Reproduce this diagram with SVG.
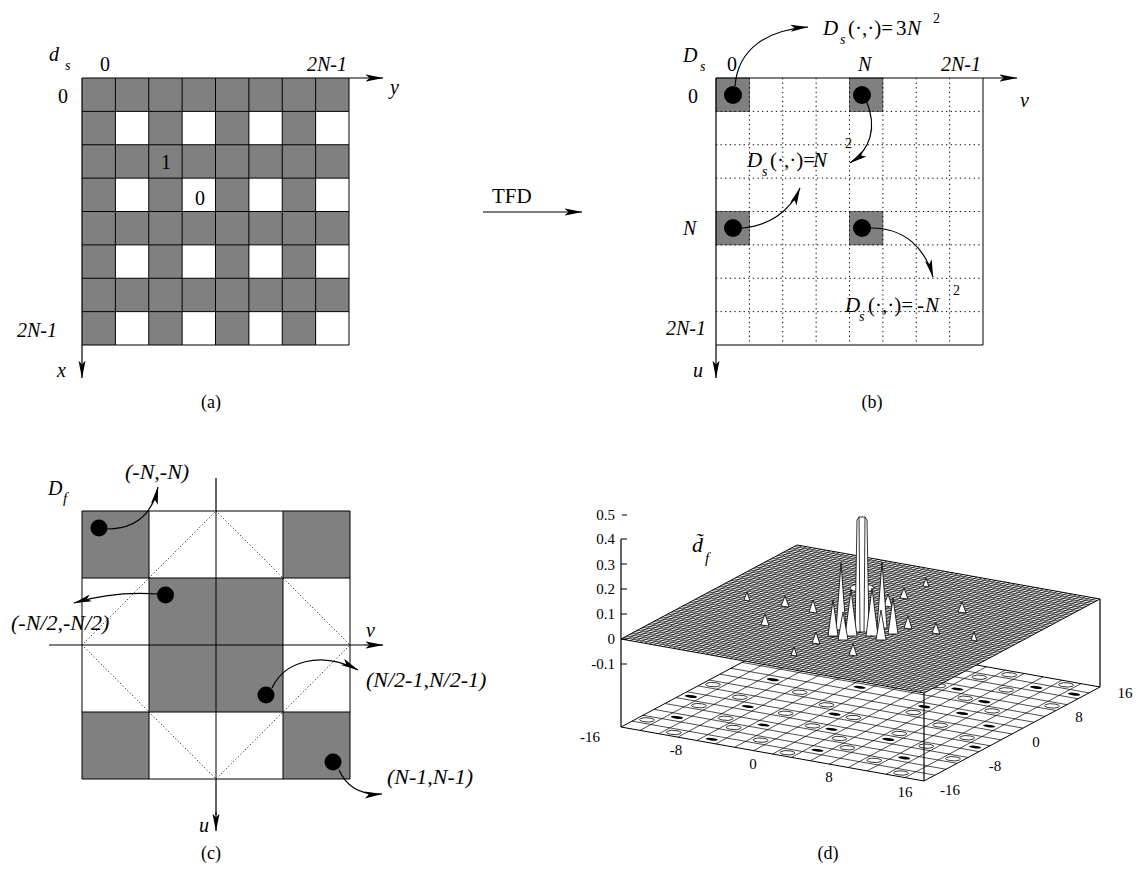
<svg xmlns="http://www.w3.org/2000/svg" width="1136" height="888" viewBox="0 0 1136 888" font-family="'Liberation Serif', 'DejaVu Serif', 'Times New Roman', serif">
<style>
text{font-family:'Liberation Serif','DejaVu Serif','Times New Roman',serif;font-size:20px;fill:#000}
.it{font-style:italic}
.sub{font-size:14px;font-style:italic}
.cap{font-size:18px}
.ann{font-size:22px;font-style:italic}
.tick{font-size:15px}
.tk{text-anchor:end;font-size:15px}
.mid{text-anchor:middle}
.grid{fill:none;stroke:#000;stroke-width:1}
.dot{fill:none;stroke:#000;stroke-width:1;stroke-dasharray:1.3 3.3}
.gray{fill:#808080}
.ax{fill:none;stroke:#000;stroke-width:1.2}
.arr{fill:none;stroke:#000;stroke-width:1.2;marker-end:url(#ah)}
.mesh{fill:none;stroke:#000;stroke-width:0.7}
.bump{fill:#fff;stroke:#000;stroke-width:0.8;stroke-linejoin:round}
</style>
<defs>
<marker id="ah" markerUnits="userSpaceOnUse" markerWidth="18" markerHeight="8" refX="17.5" refY="4" orient="auto">
<path d="M0,0.5 L18,4 L0,7.5 L4,4 Z" fill="#000"/>
</marker>
</defs>
<rect width="1136" height="888" fill="#fff"/>

<!-- Panel (a) -->
<g id="panel-a">
<g transform="translate(82,78)">
<rect x="0" y="0" width="267" height="267" class="gray"/>
<g fill="#fff">
<rect x="33.375" y="33.375" width="33.375" height="33.375"/><rect x="100.125" y="33.375" width="33.375" height="33.375"/><rect x="166.875" y="33.375" width="33.375" height="33.375"/><rect x="233.625" y="33.375" width="33.375" height="33.375"/>
<rect x="33.375" y="100.125" width="33.375" height="33.375"/><rect x="100.125" y="100.125" width="33.375" height="33.375"/><rect x="166.875" y="100.125" width="33.375" height="33.375"/><rect x="233.625" y="100.125" width="33.375" height="33.375"/>
<rect x="33.375" y="166.875" width="33.375" height="33.375"/><rect x="100.125" y="166.875" width="33.375" height="33.375"/><rect x="166.875" y="166.875" width="33.375" height="33.375"/><rect x="233.625" y="166.875" width="33.375" height="33.375"/>
<rect x="33.375" y="233.625" width="33.375" height="33.375"/><rect x="100.125" y="233.625" width="33.375" height="33.375"/><rect x="166.875" y="233.625" width="33.375" height="33.375"/><rect x="233.625" y="233.625" width="33.375" height="33.375"/>
</g>
<path class="grid" d="M33.375,0V267M66.75,0V267M100.125,0V267M133.5,0V267M166.875,0V267M200.25,0V267M233.625,0V267M267,0V267M0,33.375H267M0,66.75H267M0,100.125H267M0,133.5H267M0,166.875H267M0,200.25H267M0,233.625H267M0,267H267"/>
</g>
<text x="49" y="61" class="it">d</text><text x="65" y="70" class="sub">s</text>
<text x="105" y="71" class="mid">0</text>
<text x="307" y="71" class="it">2N-1</text>
<text x="390" y="94" class="it">y</text>
<text x="58" y="103">0</text>
<text x="17" y="337" class="it">2N-1</text>
<text x="57" y="377" class="it">x</text>
<text x="166" y="169" class="mid">1</text>
<text x="200" y="205" class="mid">0</text>
<text x="211" y="408" class="cap mid">(a)</text>
</g>

<!-- TFD label -->
<g id="tfd">
<text x="492" y="203" style="font-size:21px">TFD</text>
</g>

<!-- Panel (b) -->
<g id="panel-b">
<g transform="translate(716,78)">
<g class="gray" stroke="#333" stroke-width="0.6">
<rect x="0" y="0" width="33.375" height="33.375"/>
<rect x="133.5" y="0" width="33.375" height="33.375"/>
<rect x="0" y="133.5" width="33.375" height="33.375"/>
<rect x="133.5" y="133.5" width="33.375" height="33.375"/>
</g>
<path class="dot" d="M33.375,0V267M66.75,0V267M100.125,0V267M133.5,0V267M166.875,0V267M200.25,0V267M233.625,0V267M0,33.375H267M0,66.75H267M0,100.125H267M0,133.5H267M0,166.875H267M0,200.25H267M0,233.625H267"/>
<path class="grid" d="M267,0V267H0"/>
<g fill="#000">
<circle cx="17" cy="17" r="9"/>
<circle cx="146" cy="17" r="9"/>
<circle cx="17" cy="150" r="9"/>
<circle cx="146" cy="150" r="9"/>
</g>
</g>
<text x="683" y="62" class="it">D</text><text x="700" y="71" class="sub">s</text>
<text x="732" y="71" class="mid">0</text>
<text x="858" y="71" class="it">N</text>
<text x="941" y="71" class="it">2N-1</text>
<text x="1020" y="107" class="it">v</text>
<text x="688" y="103">0</text>
<text x="683" y="235" class="it">N</text>
<text x="706" y="335" class="it" text-anchor="end">2N-1</text>
<text x="693" y="377" class="it">u</text>
<text x="872" y="408" class="cap mid">(b)</text>
<!-- annotation 1 -->
<text x="823" y="35" class="it" style="font-size:21px">D</text>
<text x="840" y="44" class="sub">s</text>
<text x="848" y="35" style="font-size:21px">(·,·)=</text>
<text x="896" y="35" style="font-size:21px">3</text>
<text x="907" y="35" class="it" style="font-size:21px">N</text>
<text x="933" y="23" style="font-size:14px">2</text>
<!-- annotation 2 -->
<text x="747" y="167" class="it" style="font-size:21px">D</text>
<text x="762" y="176" class="sub">s</text>
<text x="770" y="167" style="font-size:21px">(·,·)=</text>
<text x="813" y="167" class="it" style="font-size:21px">N</text>
<text x="845" y="148" style="font-size:14px">2</text>
<!-- annotation 3 -->
<text x="845" y="312" class="it" style="font-size:21px">D</text>
<text x="859" y="321" class="sub">s</text>
<text x="868" y="312" style="font-size:21px">(·,·)=</text>
<text x="917" y="312" style="font-size:21px">-</text>
<text x="925" y="312" class="it" style="font-size:21px">N</text>
<text x="953" y="295" style="font-size:14px">2</text>
</g>

<!-- Panel (c) -->
<g id="panel-c">
<g transform="translate(82,511)">
<g class="gray">
<rect x="0" y="0" width="67" height="67"/>
<rect x="201" y="0" width="67" height="67"/>
<rect x="67" y="67" width="134" height="134"/>
<rect x="0" y="201" width="67" height="67"/>
<rect x="201" y="201" width="67" height="67"/>
</g>
<path d="M134,0L268,134L134,268L0,134Z" fill="none" stroke="#000" stroke-width="0.8" stroke-dasharray="1.2 2.2"/>
<path class="grid" d="M0,0H268V268H0ZM67,0V268M134,0V268M201,0V268M0,67H268M0,134H268M0,201H268"/>
<g fill="#000">
<circle cx="17" cy="17" r="8.5"/>
<circle cx="83.5" cy="84" r="8.5"/>
<circle cx="184" cy="184" r="8.5"/>
<circle cx="251" cy="251" r="8.5"/>
</g>
</g>
<text x="48" y="495" class="it">D</text><text x="63" y="503" class="sub" style="font-size:15px">f</text>
<text x="125" y="479" class="ann">(-N,-N)</text>
<text x="11" y="630" class="ann">(-N/2,-N/2)</text>
<text x="366" y="687" class="ann">(N/2-1,N/2-1)</text>
<text x="387" y="784" class="ann">(N-1,N-1)</text>
<text x="366" y="637" class="it">v</text>
<text x="199" y="832" class="it">u</text>
<text x="211" y="859" class="cap mid">(c)</text>
</g>

<!-- Panel (d) -->
<g id="panel-d">
<!-- lower plane (contour) -->
<g transform="matrix(9.46875,1.6875,5.5,-2.9375,621,727)">
<path d="M0,0H32V32H0Z" fill="#fff" stroke="#000" stroke-width="1" vector-effect="non-scaling-stroke"/>
<path class="mesh" vector-effect="non-scaling-stroke" d="M2,0V32M4,0V32M6,0V32M8,0V32M10,0V32M12,0V32M14,0V32M16,0V32M18,0V32M20,0V32M22,0V32M24,0V32M26,0V32M28,0V32M30,0V32M0,2H32M0,4H32M0,6H32M0,8H32M0,10H32M0,12H32M0,14H32M0,16H32M0,18H32M0,20H32M0,22H32M0,24H32M0,26H32M0,28H32M0,30H32"/>
<g fill="#fff" stroke="#000" stroke-width="0.8">
<ellipse vector-effect="non-scaling-stroke" cx="1" cy="3" rx="0.7" ry="0.6"/><ellipse vector-effect="non-scaling-stroke" cx="5" cy="1" rx="0.7" ry="0.6"/><ellipse vector-effect="non-scaling-stroke" cx="9" cy="5" rx="0.7" ry="0.6"/><ellipse vector-effect="non-scaling-stroke" cx="13" cy="3" rx="0.7" ry="0.6"/><ellipse vector-effect="non-scaling-stroke" cx="17" cy="1" rx="0.7" ry="0.6"/><ellipse vector-effect="non-scaling-stroke" cx="21" cy="5" rx="0.7" ry="0.6"/><ellipse vector-effect="non-scaling-stroke" cx="25" cy="3" rx="0.7" ry="0.6"/><ellipse vector-effect="non-scaling-stroke" cx="29" cy="1" rx="0.7" ry="0.6"/>
<ellipse vector-effect="non-scaling-stroke" cx="3" cy="9" rx="0.7" ry="0.6"/><ellipse vector-effect="non-scaling-stroke" cx="7" cy="7" rx="0.7" ry="0.6"/><ellipse vector-effect="non-scaling-stroke" cx="11" cy="11" rx="0.7" ry="0.6"/><ellipse vector-effect="non-scaling-stroke" cx="15" cy="9" rx="0.7" ry="0.6"/><ellipse vector-effect="non-scaling-stroke" cx="19" cy="7" rx="0.7" ry="0.6"/><ellipse vector-effect="non-scaling-stroke" cx="23" cy="11" rx="0.7" ry="0.6"/><ellipse vector-effect="non-scaling-stroke" cx="27" cy="9" rx="0.7" ry="0.6"/><ellipse vector-effect="non-scaling-stroke" cx="31" cy="7" rx="0.7" ry="0.6"/>
<ellipse vector-effect="non-scaling-stroke" cx="1" cy="15" rx="0.7" ry="0.6"/><ellipse vector-effect="non-scaling-stroke" cx="5" cy="13" rx="0.7" ry="0.6"/><ellipse vector-effect="non-scaling-stroke" cx="9" cy="17" rx="0.7" ry="0.6"/><ellipse vector-effect="non-scaling-stroke" cx="13" cy="15" rx="0.7" ry="0.6"/><ellipse vector-effect="non-scaling-stroke" cx="17" cy="13" rx="0.7" ry="0.6"/><ellipse vector-effect="non-scaling-stroke" cx="21" cy="17" rx="0.7" ry="0.6"/><ellipse vector-effect="non-scaling-stroke" cx="25" cy="15" rx="0.7" ry="0.6"/><ellipse vector-effect="non-scaling-stroke" cx="29" cy="13" rx="0.7" ry="0.6"/>
<ellipse vector-effect="non-scaling-stroke" cx="23" cy="23" rx="0.7" ry="0.6"/><ellipse vector-effect="non-scaling-stroke" cx="27" cy="21" rx="0.7" ry="0.6"/><ellipse vector-effect="non-scaling-stroke" cx="31" cy="25" rx="0.7" ry="0.6"/><ellipse vector-effect="non-scaling-stroke" cx="21" cy="29" rx="0.7" ry="0.6"/><ellipse vector-effect="non-scaling-stroke" cx="25" cy="27" rx="0.7" ry="0.6"/><ellipse vector-effect="non-scaling-stroke" cx="29" cy="31" rx="0.7" ry="0.6"/><ellipse vector-effect="non-scaling-stroke" cx="19" cy="25" rx="0.7" ry="0.6"/><ellipse vector-effect="non-scaling-stroke" cx="23" cy="31" rx="0.7" ry="0.6"/>
</g>
<g fill="#000">
<ellipse cx="3" cy="5" rx="0.6" ry="0.35"/><ellipse cx="11" cy="7" rx="0.6" ry="0.35"/><ellipse cx="19" cy="3" rx="0.6" ry="0.35"/><ellipse cx="27" cy="5" rx="0.6" ry="0.35"/><ellipse cx="7" cy="11" rx="0.6" ry="0.35"/><ellipse cx="15" cy="13" rx="0.6" ry="0.35"/><ellipse cx="23" cy="9" rx="0.6" ry="0.35"/><ellipse cx="31" cy="11" rx="0.6" ry="0.35"/><ellipse cx="5" cy="19" rx="0.6" ry="0.35"/><ellipse cx="13" cy="21" rx="0.6" ry="0.35"/><ellipse cx="21" cy="19" rx="0.6" ry="0.35"/><ellipse cx="29" cy="17" rx="0.6" ry="0.35"/><ellipse cx="25" cy="23" rx="0.6" ry="0.35"/><ellipse cx="31" cy="29" rx="0.6" ry="0.35"/><ellipse cx="21" cy="25" rx="0.6" ry="0.35"/><ellipse cx="27" cy="29" rx="0.6" ry="0.35"/><ellipse cx="9" cy="1" rx="0.6" ry="0.35"/><ellipse cx="17" cy="9" rx="0.6" ry="0.35"/><ellipse cx="1" cy="11" rx="0.6" ry="0.35"/><ellipse cx="25" cy="19" rx="0.6" ry="0.35"/>
</g>
</g>
<!-- vertical edges -->
<path class="ax" d="M924,693V781M1100,599V687" stroke-width="1"/>
<!-- upper surface mesh -->
<g transform="matrix(9.46875,1.6875,5.5,-2.9375,621,639)">
<path d="M0,0H32V32H0Z" fill="#fff" stroke="#000" stroke-width="1" vector-effect="non-scaling-stroke"/>
<path class="mesh" vector-effect="non-scaling-stroke" d="M0,0.5H32M0,1H32M0,1.5H32M0,2H32M0,2.5H32M0,3H32M0,3.5H32M0,4H32M0,4.5H32M0,5H32M0,5.5H32M0,6H32M0,6.5H32M0,7H32M0,7.5H32M0,8H32M0,8.5H32M0,9H32M0,9.5H32M0,10H32M0,10.5H32M0,11H32M0,11.5H32M0,12H32M0,12.5H32M0,13H32M0,13.5H32M0,14H32M0,14.5H32M0,15H32M0,15.5H32M0,16H32M0,16.5H32M0,17H32M0,17.5H32M0,18H32M0,18.5H32M0,19H32M0,19.5H32M0,20H32M0,20.5H32M0,21H32M0,21.5H32M0,22H32M0,22.5H32M0,23H32M0,23.5H32M0,24H32M0,24.5H32M0,25H32M0,25.5H32M0,26H32M0,26.5H32M0,27H32M0,27.5H32M0,28H32M0,28.5H32M0,29H32M0,29.5H32M0,30H32M0,30.5H32M0,31H32M0,31.5H32M1,0V32M2,0V32M3,0V32M4,0V32M5,0V32M6,0V32M7,0V32M8,0V32M9,0V32M10,0V32M11,0V32M12,0V32M13,0V32M14,0V32M15,0V32M16,0V32M17,0V32M18,0V32M19,0V32M20,0V32M21,0V32M22,0V32M23,0V32M24,0V32M25,0V32M26,0V32M27,0V32M28,0V32M29,0V32M30,0V32M31,0V32M0.5,0V32M1.5,0V32M2.5,0V32M3.5,0V32M4.5,0V32M5.5,0V32M6.5,0V32M7.5,0V32M8.5,0V32M9.5,0V32M10.5,0V32M11.5,0V32M12.5,0V32M13.5,0V32M14.5,0V32M15.5,0V32M16.5,0V32M17.5,0V32M18.5,0V32M19.5,0V32M20.5,0V32M21.5,0V32M22.5,0V32M23.5,0V32M24.5,0V32M25.5,0V32M26.5,0V32M27.5,0V32M28.5,0V32M29.5,0V32M30.5,0V32M31.5,0V32"/>
</g>
<!-- bumps -->
<g class="bump">
<polygon points="744,600 747,592 750,601"/>
<polygon points="781,606 785,596 789,607"/>
<polygon points="809,612 813,600 817,613"/>
<polygon points="904,628 908,616 912,629"/>
<polygon points="932,633 936,623 940,634"/>
<polygon points="971,640 974,632 977,641"/>
<polygon points="791,655 794,647 797,656"/>
<polygon points="812,643 816,632 820,644"/>
<polygon points="829,636 833,623 837,637"/>
<polygon points="884,606 888,594 892,607"/>
<polygon points="900,598 904,588 908,599"/>
<polygon points="923,586 926,578 929,587"/>
<polygon points="761,625 765,614 769,626"/>
<polygon points="958,612 962,602 966,613"/>
<polygon points="849,655 853,644 857,656"/>
<polygon points="836,630 841,563 846,630"/>
<polygon points="877,628 882,562 887,628"/>
<ellipse cx="862" cy="588" rx="12" ry="4"/>
<polygon points="828,636 833,600 838,636"/>
<polygon points="888,634 893,598 898,634"/>
<polygon points="855,632 857,520 859,517 865,517 867,520 869,632"/>
<path d="M859,517L860,632M865,517L864,632" fill="none"/>
<polygon points="845,636 851,590 857,636"/>
<polygon points="866,636 872,588 878,636"/>
<polygon points="838,640 843,612 848,640"/>
<polygon points="876,640 881,610 886,640"/>
</g>
<!-- z axis -->
<path class="ax" d="M621,539V727M621,539h6M621,564h6M621,589h6M621,614h6M621,639h6M621,664h6M622,515h5" stroke-width="1"/>
<text x="615" y="520" class="tk">0.5</text>
<text x="615" y="544" class="tk">0.4</text>
<text x="615" y="570" class="tk">0.3</text>
<text x="615" y="594" class="tk">0.2</text>
<text x="615" y="619" class="tk">0.1</text>
<text x="615" y="644" class="tk">0</text>
<text x="615" y="669" class="tk">-0.1</text>
<text x="590" y="742" class="tick mid">-16</text>
<text x="676" y="755" class="tick mid">-8</text>
<text x="753" y="769" class="tick mid">0</text>
<text x="829" y="782" class="tick mid">8</text>
<text x="905" y="797" class="tick mid">16</text>
<text x="950" y="795" class="tick mid">-16</text>
<text x="995" y="771" class="tick mid">-8</text>
<text x="1036" y="747" class="tick mid">0</text>
<text x="1079" y="722" class="tick mid">8</text>
<text x="1125" y="698" class="tick mid">16</text>
<text x="692" y="552" class="it" style="font-size:22px">d̃</text>
<text x="705" y="563" class="sub" style="font-size:15px">f</text>
<text x="828" y="859" class="cap mid">(d)</text>
</g>

<!-- Connectors -->
<g id="connectors">
<path class="arr" d="M82,78H383"/>
<path class="arr" d="M82,78V378"/>
<path class="arr" d="M483,212H582"/>
<path class="arr" d="M716,78H1017"/>
<path class="arr" d="M716,78V378"/>
<path class="arr" d="M735,86C738,48 768,30 808,27"/>
<path class="arr" d="M866,100C878,128 870,150 850,163"/>
<path class="arr" d="M742,228C768,226 790,212 800,188"/>
<path class="arr" d="M871,228C905,228 925,248 933,277"/>
<path class="ax" d="M49,645H82M350,645H365M216,478V511M216,779V815" stroke="#444"/>
<path class="arr" d="M365,645H383"/>
<path class="arr" d="M216,812V831"/>
<path class="arr" d="M107,529C135,529 152,515 158,487"/>
<path class="arr" d="M158,594C128,592 100,595 74,603"/>
<path class="arr" d="M272,688C284,662 320,650 358,670"/>
<path class="arr" d="M339,770C348,790 365,795 382,794"/>
</g>
</svg>
